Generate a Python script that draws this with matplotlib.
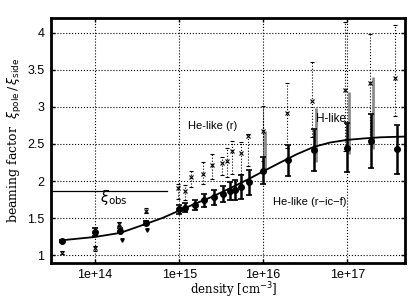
import matplotlib
matplotlib.use('Agg')
import matplotlib.pyplot as plt
import numpy as np

# model curve
curve_n = [4e13, 1e14, 2e14, 4e14, 6.3e14, 1e15, 1.6e15, 2.5e15, 4e15, 6.3e15, 1e16,
           1.6e16, 2.5e16, 4e16, 6.3e16, 1e17, 1.6e17, 2.5e17, 5e17]
curve_y = [1.20, 1.245, 1.30, 1.42, 1.50, 1.60, 1.70, 1.79, 1.90, 2.01, 2.13,
           2.25, 2.36, 2.46, 2.52, 2.555, 2.575, 2.59, 2.60]

# He-like (r-ic-f): filled circles, solid error bars
n_ricf = [4e13, 1e14, 2e14, 4e14, 1.0e15, 1.18e15, 1.55e15, 2.0e15, 2.6e15, 3.3e15,
          4.0e15, 4.6e15, 5.5e15, 6.7e15, 1.0e16, 1.95e16, 4.0e16, 1.0e17, 1.9e17, 3.9e17]
y_ricf = [1.19, 1.31, 1.33, 1.43, 1.62, 1.64, 1.68, 1.74, 1.78, 1.82,
          1.86, 1.88, 1.92, 1.98, 2.14, 2.28, 2.42, 2.45, 2.54, 2.43]
e_ricf = [0.02, 0.05, 0.03, 0.03, 0.06, 0.06, 0.07, 0.09, 0.10, 0.11,
          0.12, 0.14, 0.16, 0.17, 0.18, 0.21, 0.28, 0.33, 0.36, 0.33]

# He-like (r): crosses, dotted error bars
n_r = [4e13, 1e14, 1.9e14, 4e14, 9.6e14, 1.16e15, 1.4e15, 1.9e15, 2.45e15, 3.2e15,
       3.7e15, 4.3e15, 5.5e15, 6.6e15, 1.0e16, 1.9e16, 3.8e16, 9.4e16, 1.85e17, 3.7e17]
y_r = [1.03, 1.09, 1.42, 1.60, 1.90, 1.87, 2.05, 2.10, 2.21, 2.24,
       2.27, 2.41, 2.38, 2.61, 2.68, 2.92, 3.08, 3.23, 3.32, 3.39]
top_r = [1.05, 1.12, 1.45, 1.63, 1.96, 1.94, 2.14, 2.25, 2.36, 2.32,
         2.45, 2.54, 2.52, 2.63, 3.01, 3.32, 3.61, 4.15, 3.99, 4.11]
bot_r = [1.01, 1.06, 1.39, 1.57, 1.76, 1.74, 1.92, 1.96, 2.03, 2.08,
         2.05, 2.10, 2.10, 2.20, 2.27, 2.45, 2.60, 2.40, 2.50, 2.88]

# H-like: grey bars
n_h = [1.05e16, 4.2e16, 1.05e17, 2.05e17]
y_h = [2.40, 2.62, 2.78, 2.92]
e_h = [0.28, 0.37, 0.42, 0.49]

# low density extra points
n_low = [2.1e14, 4.2e14]
y_low = [1.20, 1.34]

xi_obs = 1.87

fig = plt.figure(figsize=(4.16, 3.0), dpi=100)
ax = fig.add_axes([0.123, 0.125, 0.851, 0.815])

ax.plot(curve_n, curve_y, color='black', linewidth=1.3, zorder=3)

lo = np.array(y_r) - np.array(bot_r)
hi = np.array(top_r) - np.array(y_r)
eb = ax.errorbar(n_r, y_r, yerr=[lo, hi], fmt='x', color='black', markersize=3,
                 elinewidth=0.8, capsize=1.5, markeredgewidth=0.8, zorder=2)
eb[2][0].set_linestyle(':')

ebh = ax.errorbar(n_h, y_h, yerr=e_h, fmt='none', ecolor='0.55', elinewidth=2.0,
                  capsize=0, zorder=2)

ax.errorbar(n_ricf, y_ricf, yerr=e_ricf, fmt='o', color='black', markersize=4,
            elinewidth=1.8, capsize=2, capthick=1.2, zorder=4)

ax.plot(n_low, y_low, 'v', color='black', markersize=2.5)

ax.plot([3e13, 7.2e14], [xi_obs, xi_obs], color='black', linewidth=0.9)
ax.text(1.15e14, 1.78, r'$\xi_{\rm obs}$', fontsize=10.5, family='DejaVu Serif', va='center')

ax.text(1.28e15, 2.74, 'He-like (r)', fontsize=8, family='Liberation Sans', va='center')
ax.text(4.2e16, 2.84, 'H-like', fontsize=8.5, family='Liberation Sans', va='center')
ax.text(1.3e16, 1.71, 'He-like (r\u2212ic\u2212f)', fontsize=8, family='Liberation Sans', va='center')

ax.set_xscale('log')
ax.set_xlim(3e13, 4.9e17)
ax.set_ylim(0.9, 4.2)
ax.set_xticks([1e14, 1e15, 1e16, 1e17])
ax.set_xticklabels(['1e+14', '1e+15', '1e+16', '1e+17'])
ax.minorticks_off()
ax.set_yticks([1, 1.5, 2, 2.5, 3, 3.5, 4])
ax.set_yticklabels(['1', '1.5', '2', '2.5', '3', '3.5', '4'])
ax.tick_params(direction='in', length=3, width=1, labelsize=9, pad=5,
               top=True, right=True)
for lab in ax.get_xticklabels() + ax.get_yticklabels():
    lab.set_family('Liberation Sans')

ax.grid(True, linestyle=':', color='black', linewidth=0.8)
for s in ax.spines.values():
    s.set_linewidth(2)

ax.set_xlabel(r'density [cm$^{-3}$]', fontsize=8.5, family='DejaVu Serif', va='top')
ax.xaxis.set_label_coords(0.515, -0.072)
ax.set_ylabel(r'beaming factor  $\xi_{\rm pole}\, /\, \xi_{\rm side}$', fontsize=9,
              family='DejaVu Serif', labelpad=2)

fig.savefig('out.png', dpi=100)
